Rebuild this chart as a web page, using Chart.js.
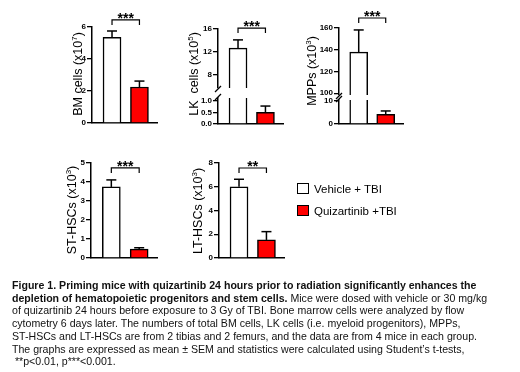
<!DOCTYPE html>
<html>
<head>
<meta charset="utf-8">
<script src="https://cdn.jsdelivr.net/npm/chart.js@4.4.1/dist/chart.umd.min.js"></script>
<style>
  body { margin: 0; background: #fff; width: 520px; height: 372px; position: relative; overflow: hidden;
         font-family: 'Liberation Sans', Arial, sans-serif; color: #000; }
  canvas { position: absolute; left: 0; top: 0; }
  .key { position: absolute; left: 297px; font-size: 11.5px; line-height: 12px; white-space: nowrap; }
  .key span { display: inline-block; width: 10px; height: 9px; border: 1px solid #000; vertical-align: -1px; margin-right: 5px; }
  #caption { position: absolute; left: 12px; top: 279px; font-size: 10.6px; line-height: 12.7px; white-space: pre; color: #111; }
</style>
</head>
<body>
<canvas id="bm" width="520" height="280"></canvas>
<canvas id="lkHigh" width="520" height="280"></canvas>
<canvas id="lkLow" width="520" height="280"></canvas>
<canvas id="mppHigh" width="520" height="280"></canvas>
<canvas id="mppLow" width="520" height="280"></canvas>
<canvas id="st" width="520" height="280"></canvas>
<canvas id="lt" width="520" height="280"></canvas>
<div id="legend"></div>
<div id="caption"><b>Figure 1. Priming mice with quizartinib 24 hours prior to radiation significantly enhances the
depletion of hematopoietic progenitors and stem cells.</b> Mice were dosed with vehicle or 30 mg/kg
of quizartinib 24 hours before exposure to 3 Gy of TBI. Bone marrow cells were analyzed by flow
cytometry 6 days later. The numbers of total BM cells, LK cells (i.e. myeloid progenitors), MPPs,
ST-HSCs and LT-HSCs are from 2 tibias and 2 femurs, and the data are from 4 mice in each group.
The graphs are expressed as mean ± SEM and statistics were calculated using Student’s t-tests,
 **p&lt;0.01, p***&lt;0.001.</div>
<script>
// groups and bar positions
const groups = ['Vehicle + TBI', 'Quizartinib +TBI'];
const barPos = [1, 2];

// BM cells (x10^7)
const bmMean = [5.35, 2.25];
const bmSem = [0.4, 0.37];
const bmTicks = [0, 2, 4, 6];

// LK cells (x10^5), broken axis
const lkMean = [12.65, 0.51];
const lkSem = [1.45, 0.27];
const lkTicksHigh = [8, 12, 16];
const lkTicksLow = [0, 0.5, 1.0];

// MPPs (x10^3), broken axis
const mppMean = [137.8, 4.2];
const mppSem = [20.4, 1.45];
const mppTicksHigh = [100, 120, 140, 160];
const mppTicksLow = [0, 5, 10];

// ST-HSCs (x10^3)
const stMean = [3.74, 0.47];
const stSem = [0.37, 0.07];
const stTicks = [0, 1, 2, 3, 4, 5];

// LT-HSCs (x10^3)
const ltMean = [6.0, 1.52];
const ltSem = [0.63, 0.7];
const ltTicks = [0, 2, 4, 6, 8];

const FONT = "'Liberation Sans', Arial, sans-serif";
const W = 520, H = 280;

// error bars, significance bracket, axis break marks and y titles
const decor = {
  id: 'decor',
  afterDatasetsDraw(chart, args, o) {
    const ctx = chart.ctx;
    const a = chart.chartArea;
    const y = chart.scales.y;
    const bars = chart.getDatasetMeta(0).data;
    const seg = (x0, y0, x1, y1) => { ctx.beginPath(); ctx.moveTo(x0, y0); ctx.lineTo(x1, y1); ctx.stroke(); };
    ctx.save();
    ctx.strokeStyle = '#000';
    ctx.fillStyle = '#000';
    ctx.lineWidth = 1.5;

    o.mean.forEach((m, i) => {
      if (m < y.min || m > y.max) return;
      const x = bars[i].x;
      const y0 = y.getPixelForValue(m);
      const y1 = y.getPixelForValue(m + o.sem[i]);
      seg(x, y0, x, y1);
      seg(x - 5, y1, x + 5, y1);
    });

    if (o.stars) {
      const by = y.getPixelForValue(o.bracket);
      const x0 = bars[0].x, x1 = bars[1].x;
      ctx.lineWidth = 1.2;
      ctx.beginPath();
      ctx.moveTo(x0, by + 5); ctx.lineTo(x0, by); ctx.lineTo(x1, by); ctx.lineTo(x1, by + 5);
      ctx.stroke();
      ctx.font = 'bold 14px ' + FONT;
      ctx.textAlign = 'center';
      ctx.textBaseline = 'alphabetic';
      ctx.fillText(o.stars, (x0 + x1) / 2, by + 3);
    }

    if (o.brk) {
      ctx.lineWidth = 1.2;
      const yb = o.brk === 'bottom' ? a.bottom + 1 : a.top - 1;
      seg(a.left - 3, yb + 3, a.left + 3, yb - 3);
    }

    if (o.title) {
      const t = o.title;
      ctx.translate(t.x, t.y);
      ctx.rotate(-Math.PI / 2);
      ctx.textAlign = 'left';
      ctx.textBaseline = 'middle';
      ctx.font = '12.5px ' + FONT;
      const w1 = ctx.measureText(t.text).width;
      const w3 = ctx.measureText(')').width;
      ctx.font = '8px ' + FONT;
      const w2 = ctx.measureText(t.sup).width;
      let x = -(w1 + w2 + w3) / 2;
      ctx.font = '12.5px ' + FONT;
      ctx.fillText(t.text, x, 0);
      ctx.font = '8px ' + FONT;
      ctx.fillText(t.sup, x + w1, -4);
      ctx.font = '12.5px ' + FONT;
      ctx.fillText(')', x + w1 + w2, 0);
    }
    ctx.restore();
  }
};

function drawPanel(id, p) {
  const ctx = document.getElementById(id).getContext('2d');
  const [left, right, top, bottom] = p.area;
  return new Chart(ctx, {
    type: 'bar',
    data: {
      datasets: [{
        label: groups.join(' / '),
        data: barPos.map((x, i) => ({ x: x, y: p.mean[i] })),
        backgroundColor: ['#ffffff', '#ff0000'],
        borderColor: '#000',
        borderWidth: 1.5,
        barThickness: 18
      }]
    },
    options: {
      responsive: false,
      animation: false,
      devicePixelRatio: 1,
      events: [],
      layout: { padding: { left: left - 30, right: W - right, top: top, bottom: H - bottom } },
      scales: {
        x: {
          type: 'linear', offset: false, min: 0.27, max: 2.64,
          ticks: { display: false },
          grid: { display: false },
          border: { display: p.xLine, color: '#000', width: 1.5 },
          afterFit: s => { s.height = 0; }
        },
        y: {
          min: p.min, max: p.max,
          afterBuildTicks: s => { s.ticks = p.ticks.map(v => ({ value: v })); },
          ticks: {
            color: '#000', padding: 1,
            font: { family: FONT, size: 8, weight: 'bold' },
            callback: v => p.digits ? v.toFixed(p.digits) : v
          },
          grid: { drawOnChartArea: false, color: '#000', lineWidth: 1.3, tickLength: 5 },
          border: { color: '#000', width: 1.5 },
          afterFit: s => { s.width = 30; }
        }
      },
      plugins: {
        legend: { display: false },
        tooltip: { enabled: false },
        decor: {
          mean: p.mean, sem: p.sem,
          bracket: p.bracket, stars: p.stars,
          brk: p.brk, title: p.title
        }
      }
    },
    plugins: [decor]
  });
}

drawPanel('bm', {
  mean: bmMean, sem: bmSem, ticks: bmTicks, min: 0, max: 6,
  area: [92, 157, 27, 123], xLine: true,
  bracket: 6.44, stars: '***',
  title: { text: 'BM cells (x10', sup: '7', x: 79, y: 74 }
});

drawPanel('lkHigh', {
  mean: lkMean, sem: lkSem, ticks: lkTicksHigh, min: 5.7, max: 16,
  area: [218, 283, 29, 88], xLine: false,
  bracket: 16.17, stars: '***', brk: 'bottom',
  title: { text: 'LK  cells (x10', sup: '5', x: 195, y: 74 }
});
drawPanel('lkLow', {
  mean: lkMean, sem: lkSem, ticks: lkTicksLow, min: 0, max: 1.13, digits: 1,
  area: [218, 283, 98, 124], xLine: true, brk: 'top'
});

drawPanel('mppHigh', {
  mean: mppMean, sem: mppSem, ticks: mppTicksHigh, min: 98.3, max: 160,
  area: [339, 403, 28, 95], xLine: false,
  bracket: 169.2, stars: '***', brk: 'bottom',
  title: { text: 'MPPs (x10', sup: '3', x: 313, y: 71 }
});
drawPanel('mppLow', {
  mean: mppMean, sem: mppSem, ticks: mppTicksLow, min: 0, max: 10.4,
  area: [339, 403, 100, 124], xLine: true, brk: 'top'
});

drawPanel('st', {
  mean: stMean, sem: stSem, ticks: stTicks, min: 0, max: 5,
  area: [91, 157, 163, 258], xLine: true,
  bracket: 4.74, stars: '***',
  title: { text: 'ST-HSCs (x10', sup: '3', x: 73, y: 210 }
});

drawPanel('lt', {
  mean: ltMean, sem: ltSem, ticks: ltTicks, min: 0, max: 8,
  area: [219, 284, 163, 258], xLine: true,
  bracket: 7.58, stars: '**',
  title: { text: 'LT-HSCs (x10', sup: '3', x: 199, y: 211 }
});

// legend
const legendTops = [183, 205];
const legendFill = ['#ffffff', '#ff0000'];
document.getElementById('legend').innerHTML = groups.map((g, i) =>
  `<div class="key" style="top:${legendTops[i]}px"><span style="background:${legendFill[i]}"></span>${g}</div>`
).join('');
</script>
</body>
</html>
